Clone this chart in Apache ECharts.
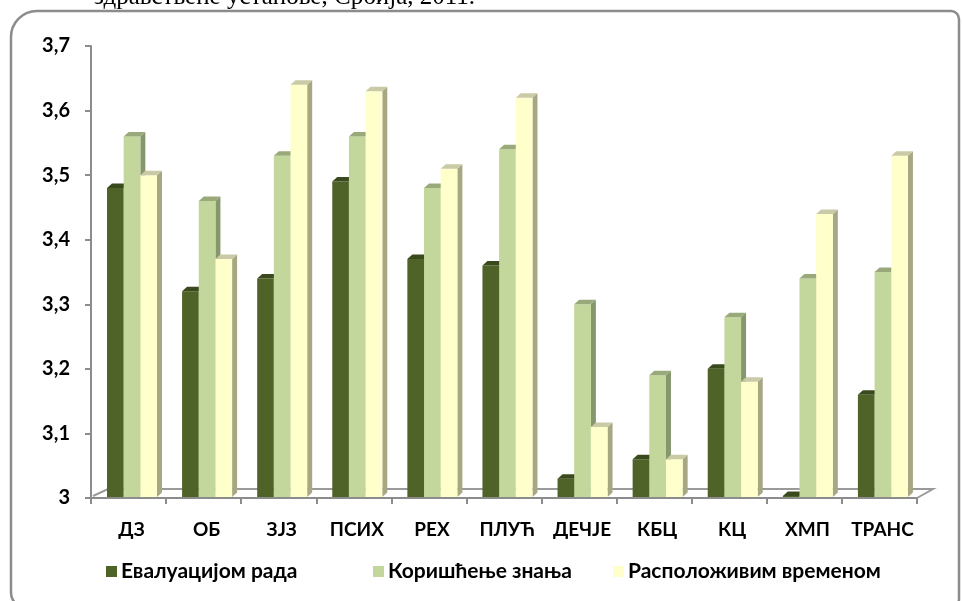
<!DOCTYPE html>
<html><head><meta charset="utf-8">
<script src="https://cdn.jsdelivr.net/npm/echarts@6/dist/echarts.min.js"></script>
<style>html,body{margin:0;padding:0;background:#fff}#c{width:962px;height:601px}</style>
</head><body><div id="c"></div>
<script>
const categories = ['ДЗ','ОБ','ЗЈЗ','ПСИХ','РЕХ','ПЛУЋ','ДЕЧЈЕ','КБЦ','КЦ','ХМП','ТРАНС'];
const evaluacija = [3.48,3.32,3.34,3.49,3.37,3.36,3.03,3.06,3.20,3.00,3.16];
const koriscenje = [3.56,3.46,3.53,3.56,3.48,3.54,3.30,3.19,3.28,3.34,3.35];
const vreme      = [3.50,3.37,3.64,3.63,3.51,3.62,3.11,3.06,3.18,3.44,3.53];
const seriesNames = ['Евалуацијом рада','Коришћење знања','Расположивим временом'];
const yTicks = {min:3, max:3.7, interval:0.1};
const titleText = 'здравствене установе, Србија, 2011.';

const palettes = [
  {front:'#4F6228', cap:'#3B4A1C', side:'#3A4820'},
  {front:'#C3D69B', cap:'#9AA97A', side:'#86976E'},
  {front:'#FFFFCC', cap:'#CACAA6', side:'#A7A783'}
];
const FONT = 'Lato, "Open Sans", sans-serif';

function makeRender(idx){
  const p = palettes[idx];
  return function(params, api){
    const cat = api.value(0), val = api.value(1);
    const base = api.coord([cat, yTicks.min]);
    const top = api.coord([cat, val]);
    const band = api.size([1,0])[0];
    const bw = band*0.222;
    const x0 = base[0] - band/2 + band*0.213 + idx*bw;
    const by = base[1]-1, ty = Math.min(top[1], by-1);
    const dx = 5, dy = -4.5;
    return {type:'group', children:[
      {type:'polygon', shape:{points:[[x0+bw,ty],[x0+bw+dx,ty+dy],[x0+bw+dx,by+dy],[x0+bw,by]]}, style:{fill:p.side}},
      {type:'rect', shape:{x:x0, y:ty, width:bw, height:by-ty}, style:{fill:p.front}},
      {type:'polygon', shape:{points:[[x0,ty],[x0+bw,ty],[x0+bw+dx,ty+dy],[x0+dx,ty+dy]]}, style:{fill:p.cap}}
    ]};
  };
}

const dataSets = [evaluacija, koriscenje, vreme];
const series = [{
  type:'custom', name:'floor', silent:true, z:1,
  data:[[0]],
  renderItem:function(params, api){
    const cs = params.coordSys;
    const x = cs.x, y = cs.y + cs.height, w = cs.width;
    return {type:'polyline', shape:{points:[[x+2,y-2],[x+17,y-9],[x+w+16,y-9],[x+w,y]]},
      style:{stroke:'#9a9a9a', lineWidth:2, fill:null}};
  }
}];
dataSets.forEach((d,i)=>{
  series.push({
    type:'custom', name:seriesNames[i], z:3+i,
    itemStyle:{color:palettes[i].front},
    encode:{x:0,y:1},
    data:d.map((v,k)=>[k,v]),
    renderItem:makeRender(i)
  });
});

const legendLefts = [101, 368, 608];
const chart = echarts.init(document.getElementById('c'));
chart.setOption({
  animation:false,
  backgroundColor:'#fff',
  grid:{left:91, right:45, top:46, bottom:103},
  xAxis:{type:'category', data:categories,
    axisLine:{lineStyle:{color:'#8c8c8c', width:2}},
    axisTick:{show:true, length:6, lineStyle:{color:'#8c8c8c', width:2}},
    axisLabel:{color:'#000', fontFamily:FONT, fontWeight:'bold', fontSize:19, margin:22, interval:0, padding:[0,0,0,6]}},
  yAxis:{type:'value', min:yTicks.min, max:yTicks.max, interval:yTicks.interval,
    axisLine:{show:true, lineStyle:{color:'#8c8c8c', width:2}},
    axisTick:{show:true, length:6, lineStyle:{color:'#8c8c8c', width:2}},
    splitLine:{show:false},
    axisLabel:{color:'#000', fontFamily:FONT, fontWeight:'bold', fontSize:20, margin:21,
      formatter:v=>{const s=(Math.round(v*10)/10).toString(); return s.replace('.',',');}}},
  legend: seriesNames.map((n,i)=>({
    data:[n], left:legendLefts[i], top:556, icon:'rect', itemWidth:11, itemHeight:11, itemGap:0,
    textStyle:{color:'#000', fontFamily:FONT, fontWeight:'bold', fontSize:21, padding:[0,0,0,-1]}
  })),
  graphic:[
    {type:'rect', shape:{x:11, y:11, width:948, height:596, r:[26,8,8,14]},
     style:{fill:null, stroke:'#8c8c8c', lineWidth:2.5}, z:-1},
    {type:'text', z:10, style:{x:94, y:10, verticalAlign:'bottom', text:titleText, font:'25px "Liberation Serif", serif', fill:'#000'}}
  ],
  series:series
});
</script></body></html>
